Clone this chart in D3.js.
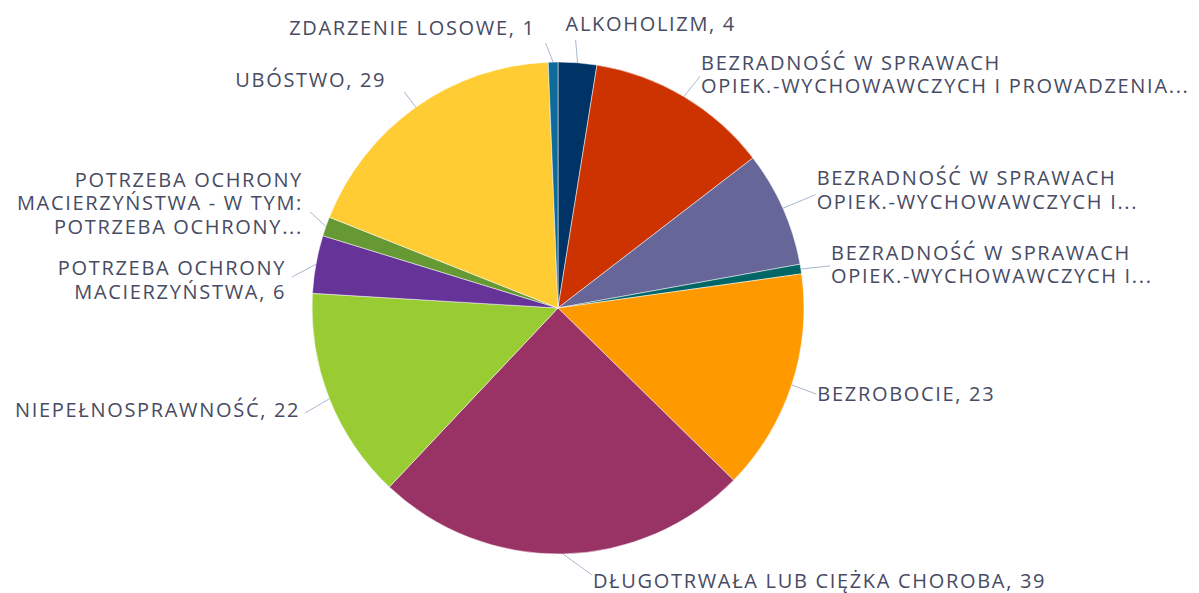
<!DOCTYPE html>
<html>
<head>
<meta charset="utf-8">
<script src="https://cdn.jsdelivr.net/npm/d3@7"></script>
<style>
  body { margin: 0; background: #fff; }
  svg text { font-family: "Open Sans", sans-serif; fill: #474b63; }
</style>
</head>
<body>
<svg id="chart" width="1199" height="593"></svg>
<script>
  const categories = [
    ['ALKOHOLIZM, 4'],
    ['BEZRADNOŚĆ W SPRAWACH', 'OPIEK.-WYCHOWAWCZYCH I PROWADZENIA...'],
    ['BEZRADNOŚĆ W SPRAWACH', 'OPIEK.-WYCHOWAWCZYCH I...'],
    ['BEZRADNOŚĆ W SPRAWACH', 'OPIEK.-WYCHOWAWCZYCH I...'],
    ['BEZROBOCIE, 23'],
    ['DŁUGOTRWAŁA LUB CIĘŻKA CHOROBA, 39'],
    ['NIEPEŁNOSPRAWNOŚĆ, 22'],
    ['POTRZEBA OCHRONY', 'MACIERZYŃSTWA, 6'],
    ['POTRZEBA OCHRONY', 'MACIERZYŃSTWA - W TYM:', 'POTRZEBA OCHRONY...'],
    ['UBÓSTWO, 29'],
    ['ZDARZENIE LOSOWE, 1']
  ];
  const values = [4, 19, 12, 1, 23, 39, 22, 6, 2, 29, 1];
  const colors = ['#003366', '#cc3300', '#666699', '#006666', '#ff9900', '#993366',
                  '#99cc33', '#663399', '#669933', '#ffcc33', '#0e6a9b'];

  // label placement tweaks: [nudge x, nudge y, text dx, text dy]
  const labelTweak = [
    [-4, 3, -10, -16],
    [3, 2, 1, -2],
    [9, -3, 1, -4.5],
    [3.5, 1, 1, -1.5],
    [0, 1, 1, 0],
    [28.5, -5, 1, 6],
    [0, 4.6, -5, -3],
    [1.7, 17.4, -6, 3],
    [8.6, -6, -7, -8.5],
    [3.4, 5.8, -18, -12],
    [-7, 7, -10, -15]
  ];

  const svg = d3.select('#chart');
  const cx = 558, cy = 308, radius = 246;
  const labelDist = 26;
  const lineH = 23.5;
  const fontSize = 20;

  // the original font is wider than what is installed: pick a letter spacing
  // that makes "BEZROBOCIE, 23" about 178px wide
  const probe = svg.append('text').attr('font-size', fontSize).text(categories[4][0]);
  const raw = probe.node().getComputedTextLength();
  probe.remove();
  const spacing = Math.max(0, (178 - raw) / categories[4][0].length);

  const pie = d3.pie().sort(null).value(d => d);
  const arc = d3.arc().innerRadius(0).outerRadius(radius);
  const arcs = pie(values);

  const g = svg.append('g').attr('transform', `translate(${cx},${cy})`);

  g.selectAll('path')
    .data(arcs)
    .enter()
    .append('path')
    .attr('d', arc)
    .attr('fill', (d, i) => colors[i])
    .attr('stroke', '#fff')
    .attr('stroke-width', 0.5);

  const polar = (a, r) => [r * Math.sin(a), -r * Math.cos(a)];

  arcs.forEach((d, i) => {
    const a = (d.startAngle + d.endAngle) / 2;
    const [nx, ny, tx, ty] = labelTweak[i];
    const start = polar(a, radius);
    const rp = polar(a, radius + labelDist);
    const end = [rp[0] + nx, rp[1] + ny];
    const right = Math.sin(a) >= 0;

    g.append('path')
      .attr('d', `M${start[0]},${start[1]}L${end[0]},${end[1]}`)
      .attr('stroke', '#a9b7cf')
      .attr('stroke-width', 1)
      .attr('fill', 'none');

    const lines = categories[i];
    const top = end[1] + ty - (lines.length - 1) * lineH / 2;
    const text = g.append('text')
      .attr('font-size', fontSize)
      .attr('letter-spacing', spacing)
      .attr('text-anchor', right ? 'start' : 'end');
    text.selectAll('tspan')
      .data(lines)
      .enter()
      .append('tspan')
      .attr('x', end[0] + tx)
      .attr('y', (t, k) => top + k * lineH)
      .attr('dy', '0.35em')
      .text(t => t);
  });
</script>
</body>
</html>
